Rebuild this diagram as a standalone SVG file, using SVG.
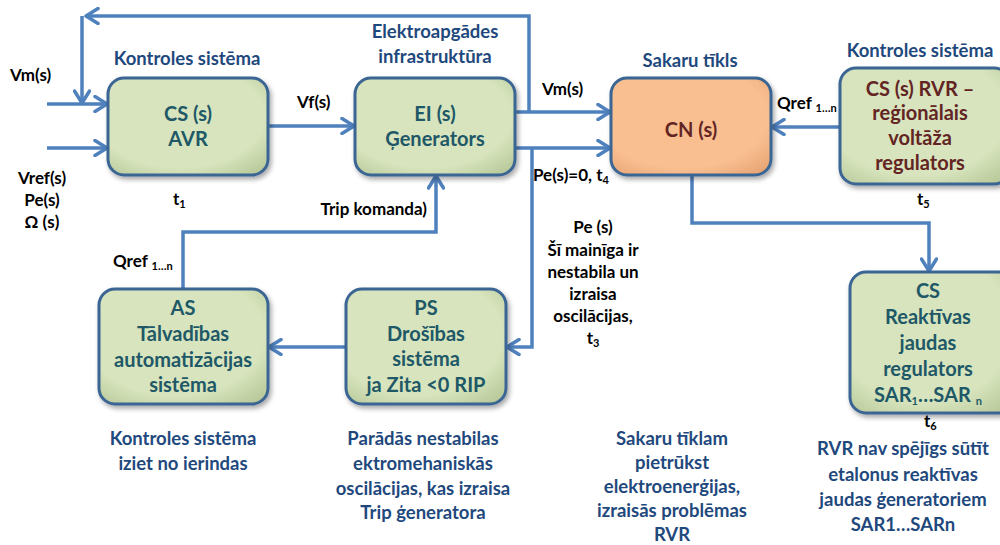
<svg xmlns="http://www.w3.org/2000/svg" width="1000" height="545" viewBox="0 0 1000 545">
  <defs>
    <marker id="arrow" markerUnits="userSpaceOnUse" markerWidth="16" markerHeight="18" viewBox="0 0 16 18" refX="14" refY="9" orient="auto">
      <path d="M2,1.5 L14,9 L2,16.5" fill="none" stroke="#4F81BD" stroke-width="3.5" stroke-linecap="round" stroke-linejoin="round"/>
    </marker>
    <filter id="shade" x="-10%" y="-10%" width="125%" height="130%">
      <feGaussianBlur in="SourceAlpha" stdDeviation="2.5"/>
      <feOffset dx="2" dy="3" result="b"/>
      <feComponentTransfer><feFuncA type="linear" slope="0.35"/></feComponentTransfer>
      <feMerge><feMergeNode/><feMergeNode in="SourceGraphic"/></feMerge>
    </filter>
    <radialGradient id="greenFill" cx="45%" cy="40%" r="75%">
      <stop offset="0.7" stop-color="#D7E4BD"/>
      <stop offset="1" stop-color="#B9C99A"/>
    </radialGradient>
    <radialGradient id="orangeFill" cx="45%" cy="40%" r="75%">
      <stop offset="0.7" stop-color="#F9BF91"/>
      <stop offset="1" stop-color="#E8A574"/>
    </radialGradient>
  </defs>
  <style>
    text { font-family: Lato, "Open Sans", "Liberation Sans", sans-serif; font-weight: bold; }
    .box { fill: url(#greenFill); stroke: #3B6593; stroke-width: 3; filter: url(#shade); }
    .boxO { fill: url(#orangeFill); stroke: #3B6593; stroke-width: 3; filter: url(#shade); }
    .teal { fill: #205867; font-size: 20px; text-anchor: middle; }
    .red { fill: #632523; font-size: 20px; text-anchor: middle; }
    .head { fill: #1F497D; font-size: 18.5px; text-anchor: middle; }
    .lbl { fill: #000; font-size: 17px; }
    .mid { text-anchor: middle; }
    .sub { font-size: 11px; }
    .conn { fill: none; stroke: #4F81BD; stroke-width: 3.5; }
    .arr { marker-end: url(#arrow); }
  </style>

  <!-- connectors -->
  <g id="connectors">
    <path class="conn arr" d="M529,112 V16 H86"/>
    <path class="conn arr" d="M82,16 V103"/>
    <path class="conn arr" d="M47,104 H107"/>
    <path class="conn arr" d="M47,148 H107"/>
    <path class="conn arr" d="M268,126 H354"/>
    <path class="conn arr" d="M515,112 H610"/>
    <path class="conn arr" d="M515,148 H610"/>
    <path class="conn arr" d="M532,148 V347 H507"/>
    <path class="conn arr" d="M346,347 H269"/>
    <path class="conn arr" d="M183,289 V232 H436 V176"/>
    <path class="conn arr" d="M840,127 H772"/>
    <path class="conn arr" d="M692,175 V223 H929 V271"/>
  </g>

  <!-- AVR control block -->
  <g id="cs-avr">
    <rect class="box" x="108" y="78" width="160" height="97" rx="16"/>
    <text class="teal" x="188" y="121">CS (s)</text>
    <text class="teal" x="188" y="146">AVR</text>
  </g>

  <!-- generator block -->
  <g id="ei-generators">
    <rect class="box" x="355" y="78" width="160" height="97" rx="16"/>
    <text class="teal" x="435" y="121">EI (s)</text>
    <text class="teal" x="435" y="146">Ģenerators</text>
  </g>

  <!-- communication network block -->
  <g id="cn">
    <rect class="boxO" x="611" y="78" width="160" height="97" rx="16"/>
    <text class="red" x="691" y="137">CN (s)</text>
  </g>

  <!-- regional voltage regulator block -->
  <g id="cs-rvr">
    <rect class="box" x="840" y="68" width="170" height="116" rx="16"/>
    <text class="red" x="920" y="96">CS (s) RVR –</text>
    <text class="red" x="920" y="120">reģionālais</text>
    <text class="red" x="920" y="145">voltāža</text>
    <text class="red" x="920" y="170">regulators</text>
  </g>

  <!-- remote automation block -->
  <g id="as">
    <rect class="box" x="99" y="289" width="169" height="115" rx="16"/>
    <text class="teal" x="183" y="315">AS</text>
    <text class="teal" x="183" y="341">Tālvadības</text>
    <text class="teal" x="183" y="367">automatizācijas</text>
    <text class="teal" x="183" y="392">sistēma</text>
  </g>

  <!-- protection block -->
  <g id="ps">
    <rect class="box" x="346" y="289" width="160" height="115" rx="16"/>
    <text class="teal" x="426" y="315">PS</text>
    <text class="teal" x="426" y="341">Drošības</text>
    <text class="teal" x="426" y="366">sistēma</text>
    <text class="teal" x="426" y="392">ja Zita &lt;0 RIP</text>
  </g>

  <!-- reactive power regulators block -->
  <g id="cs-sar">
    <rect class="box" x="850" y="272" width="165" height="141" rx="16"/>
    <text class="teal" x="928" y="298">CS</text>
    <text class="teal" x="928" y="324">Reaktīvas</text>
    <text class="teal" x="928" y="350">jaudas</text>
    <text class="teal" x="928" y="376">regulators</text>
    <text class="teal" x="928" y="402">SAR<tspan class="sub" dy="3">1</tspan><tspan dy="-3">…SAR </tspan><tspan class="sub" dy="3">n</tspan></text>
  </g>

  <!-- section headings -->
  <g id="headings">
    <text class="head" x="187" y="65">Kontroles sistēma</text>
    <text class="head" x="435" y="38">Elektroapgādes</text>
    <text class="head" x="435" y="63">infrastruktūra</text>
    <text class="head" x="690" y="67">Sakaru tīkls</text>
    <text class="head" x="920" y="57">Kontroles sistēma</text>
  </g>

  <!-- signal labels -->
  <g id="labels">
    <text class="lbl" x="10" y="81">Vm(s)</text>
    <text class="lbl mid" x="42" y="184">Vref(s)</text>
    <text class="lbl mid" x="42" y="206">Pe(s)</text>
    <text class="lbl mid" x="42" y="228">Ω (s)</text>
    <text class="lbl" x="173" y="205">t<tspan class="sub" dy="3">1</tspan></text>
    <text class="lbl" x="297" y="108">Vf(s)</text>
    <text class="lbl" x="427" y="215" text-anchor="end">Trip komanda)</text>
    <text class="lbl" x="542" y="95">Vm(s)</text>
    <text class="lbl" x="533" y="181">Pe(s)=0, t<tspan class="sub" dy="3">4</tspan></text>
    <text class="lbl mid" x="593" y="233">Pe (s)</text>
    <text class="lbl mid" x="593" y="256">Šī mainīga ir</text>
    <text class="lbl mid" x="593" y="278">nestabila un</text>
    <text class="lbl mid" x="593" y="300">izraisa</text>
    <text class="lbl mid" x="593" y="322">oscilācijas,</text>
    <text class="lbl mid" x="593" y="344">t<tspan class="sub" dy="3">3</tspan></text>
    <text class="lbl" x="113" y="267">Qref <tspan class="sub" dy="3">1…n</tspan></text>
    <text class="lbl" x="777" y="109">Qref <tspan class="sub" dy="3">1…n</tspan></text>
    <text class="lbl" x="917" y="205">t<tspan class="sub" dy="3">5</tspan></text>
    <text class="lbl" x="924" y="427">t<tspan class="sub" dy="3">6</tspan></text>
  </g>

  <!-- consequence notes -->
  <g id="notes">
    <text class="head" x="183" y="445">Kontroles sistēma</text>
    <text class="head" x="183" y="470">iziet no ierindas</text>
    <text class="head" x="423" y="445">Parādās nestabilas</text>
    <text class="head" x="423" y="470">ektromehaniskās</text>
    <text class="head" x="423" y="495">oscilācijas, kas izraisa</text>
    <text class="head" x="423" y="519">Trip ģeneratora</text>
    <text class="head" x="672" y="445">Sakaru tīklam</text>
    <text class="head" x="672" y="469">pietrūkst</text>
    <text class="head" x="672" y="493">elektroenerģijas,</text>
    <text class="head" x="672" y="517">izraisās problēmas</text>
    <text class="head" x="672" y="541">RVR</text>
    <text class="head" x="903" y="455">RVR nav spējīgs sūtīt</text>
    <text class="head" x="903" y="481">etalonus reaktīvas</text>
    <text class="head" x="903" y="506">jaudas ģeneratoriem</text>
    <text class="head" x="903" y="531">SAR1…SARn</text>
  </g>
</svg>
